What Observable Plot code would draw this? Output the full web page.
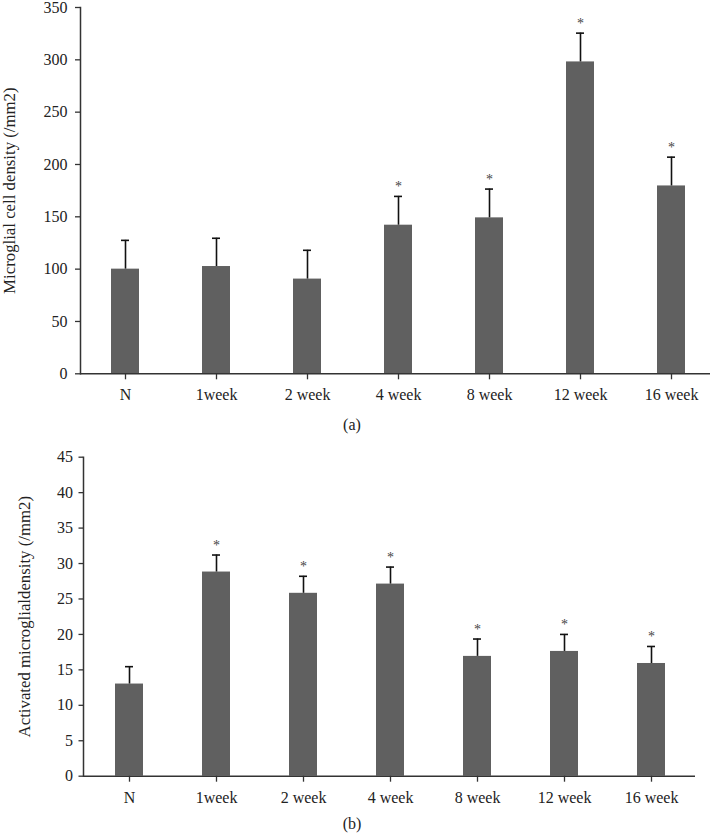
<!DOCTYPE html>
<html>
<head>
<meta charset="utf-8">
<script src="https://cdn.jsdelivr.net/npm/d3@7"></script>
<script src="https://cdn.jsdelivr.net/npm/@observablehq/plot@0.6"></script>
<style>
  html, body { margin: 0; padding: 0; background: #fff; }
  #wrap { position: relative; width: 710px; height: 833px; overflow: hidden; font-family: "Liberation Serif", "DejaVu Serif", serif; color: #222; }
  .panel { position: absolute; left: 0; }
  .cap { position: absolute; left: -3px; width: 710px; text-align: center; font-size: 16px; }
</style>
</head>
<body>
<div id="wrap">
  <div id="pa" class="panel" style="top:0px"></div>
  <div class="cap" style="top:416px">(a)</div>
  <div id="pb" class="panel" style="top:440px"></div>
  <div class="cap" style="top:815px">(b)</div>
</div>
<script>
const categories = ["N", "1week", "2 week", "4 week", "8 week", "12 week", "16 week"];
const densityA = [100, 102.5, 90.5, 142, 149, 298, 179.5];
const errorA = [27.5, 27, 27.5, 27.5, 27.5, 27.5, 27.5];
const sigA = [false, false, false, true, true, true, true];
const yTicksA = [0, 50, 100, 150, 200, 250, 300, 350];

const densityB = [13.0, 28.8, 25.8, 27.1, 16.9, 17.6, 15.9];
const errorB = [2.45, 2.4, 2.4, 2.4, 2.45, 2.4, 2.4];
const sigB = [false, true, true, true, true, true, true];
const yTicksB = [0, 5, 10, 15, 20, 25, 30, 35, 40, 45];

const rowsA = categories.map((c, i) => ({cat: c, v: densityA[i], top: densityA[i] + errorA[i], sig: sigA[i]}));
const rowsB = categories.map((c, i) => ({cat: c, v: densityB[i], top: densityB[i] + errorB[i], sig: sigB[i]}));

const FONT = "Liberation Serif, DejaVu Serif, serif";
const BAR = "#606060";
const INK = "#222";

function panel(rows, o) {
  return Plot.plot({
    width: 710,
    height: o.height,
    marginTop: o.marginTop,
    marginBottom: o.marginBottom,
    marginLeft: o.marginLeft,
    marginRight: o.marginRight,
    style: {fontFamily: FONT, fontSize: "16px", color: INK, background: "white", overflow: "visible"},
    x: {domain: categories, paddingInner: o.pi, paddingOuter: o.po, align: o.align, label: null},
    y: {domain: o.yDomain, label: null},
    marks: [
      Plot.barY(rows, {x: "cat", y: "v", fill: BAR}),
      Plot.ruleX(rows, {x: "cat", y1: "v", y2: "top", stroke: "#111", strokeWidth: 1.6}),
      Plot.tickY(rows, {x: "cat", y: "top", stroke: "#111", strokeWidth: 1.6, insetLeft: 10, insetRight: 10}),
      Plot.text(rows.filter(d => d.sig), {x: "cat", y: "top", text: () => "*", dy: -10, fontSize: 14, fill: "#444", fontFamily: FONT}),
      Plot.ruleY([0], {stroke: "#333", strokeWidth: 1.5}),
      Plot.axisY({ticks: o.yTicks, tickSize: o.tickSizeY, tickPadding: o.tickPadY, stroke: "#333", strokeWidth: 1.3, fill: INK,
                  fontSize: 16}),
      Plot.axisY({ticks: [], label: o.label, labelAnchor: "center", labelOffset: o.labelOffset, labelArrow: "none",
                  fontSize: 16.8, fill: INK}),
      Plot.axisX({tickSize: 6, tickPadding: 9, stroke: "#333", strokeWidth: 1.3, fill: INK, label: null, fontSize: 16}),
      Plot.frame({anchor: "left", stroke: "#333", strokeWidth: 1.5})
    ]
  });
}

document.getElementById("pa").append(panel(rowsA, {
  height: 410, marginTop: 7, marginBottom: 36.7, marginLeft: 80, marginRight: 0,
  pi: 0.697, po: 0.298, align: 0.55, yDomain: [0, 350], yTicks: yTicksA,
  tickSizeY: 5, tickPadY: 8, label: "Microglial cell density (/mm2)", labelOffset: 77
}));

document.getElementById("pb").append(panel(rowsB, {
  height: 372, marginTop: 16.7, marginBottom: 36.3, marginLeft: 83, marginRight: 15,
  pi: 0.682, po: 0.35, align: 0.51, yDomain: [0, 45], yTicks: yTicksB,
  tickSizeY: 4.5, tickPadY: 6, label: "Activated microglialdensity (/mm2)", labelOffset: 65
}));
</script>
</body>
</html>
